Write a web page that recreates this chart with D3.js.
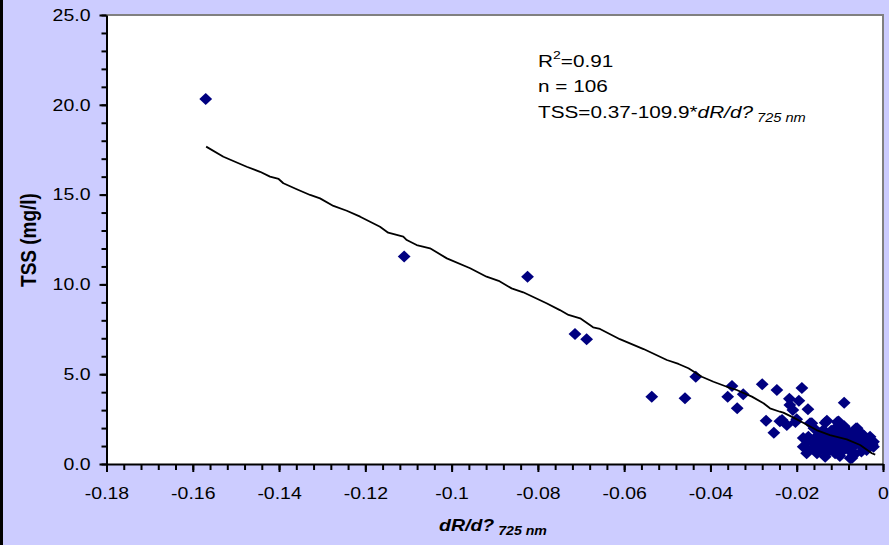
<!DOCTYPE html>
<html>
<head>
<meta charset="utf-8">
<script src="https://cdn.jsdelivr.net/npm/d3@7"></script>
<style>
  body { margin: 0; background: #ccccff; }
  svg { display: block; font-family: "Liberation Sans", Arial, sans-serif; }
</style>
</head>
<body>
<script>
// measured values: dR/dλ at 725 nm vs TSS (mg/l)
const dRdl = [
  -0.157, -0.111, -0.0824, -0.0714, -0.0687, -0.0536, -0.0459, -0.0434, -0.035, -0.036,
  -0.0324, -0.0338, -0.028, -0.0246, -0.0188, -0.0217, -0.0195, -0.0216, -0.009, -0.0209,
  -0.0174, -0.0271, -0.0253, -0.0239, -0.0234, -0.0223, -0.0203, -0.0200, -0.0169, -0.0134,
  -0.0130, -0.0106, -0.0103, -0.0160, -0.0138, -0.0063, -0.0060, -0.0084, -0.0107, -0.0146,
  -0.0173, -0.0127, -0.0053, -0.0030, -0.0022, -0.0038, -0.0030, -0.0022, -0.0038, -0.0173,
  -0.0146, -0.0111, -0.0076, -0.0177, -0.0134, -0.0088, -0.0069, -0.0161, -0.0130, -0.0107,
  -0.0084, -0.0065, -0.0115, -0.0138, -0.0150, -0.0095, -0.0042, -0.0185, -0.0153, -0.0127,
  -0.012, -0.010, -0.009, -0.0075, -0.0055, -0.005, -0.0045, -0.0095, -0.0115, -0.0125,
  -0.014, -0.016, -0.0105, -0.0085, -0.007, -0.0055, -0.012, -0.0155, -0.011, -0.009,
  -0.0035, -0.0065, -0.010, -0.0145, -0.0175, -0.0115, -0.0095, -0.006, -0.0045, -0.0025,
  -0.008, -0.0135, -0.0185, -0.0165, -0.0072, -0.0148
];
const tss = [
  20.32, 11.55, 10.43, 7.24, 6.94, 3.75, 3.66, 4.86, 4.34, 3.75,
  3.88, 3.10, 4.44, 4.12, 4.23, 3.64, 3.52, 3.28, 3.41, 3.00,
  3.05, 2.41, 1.74, 2.38, 2.45, 2.17, 2.34, 2.49, 2.27, 2.30,
  2.41, 2.34, 2.36, 1.99, 1.89, 1.97, 1.99, 1.89, 1.71, 1.71,
  1.52, 1.34, 1.34, 1.52, 1.24, 0.96, 1.34, 0.96, 0.78, 0.78,
  0.78, 0.60, 0.32, 0.60, 0.41, 0.96, 0.96, 1.15, 0.96, 1.15,
  1.43, 1.52, 1.43, 1.34, 1.24, 1.24, 1.34, 0.96, 0.60, 0.68,
  1.00, 0.85, 1.10, 1.20, 1.10, 0.70, 1.60, 0.70, 0.90, 1.15,
  1.05, 0.90, 1.50, 1.65, 1.70, 1.80, 1.85, 1.50, 2.00, 2.10,
  1.10, 0.55, 0.45, 1.00, 1.25, 1.60, 1.85, 1.25, 0.90, 1.10,
  0.80, 1.60, 1.45, 2.27, 0.33, 1.05
];

// regression line as drawn in the figure
const trendX = [
  -0.1569, -0.1529, -0.1475, -0.1444, -0.1421, -0.1401, -0.139, -0.1359, -0.1328, -0.1305,
  -0.1274, -0.1243, -0.1212, -0.1189, -0.1166, -0.1147, -0.1112, -0.1104, -0.1081, -0.105,
  -0.1011, -0.0957, -0.0919, -0.0891, -0.0861, -0.0834, -0.078, -0.0749, -0.0729, -0.0702,
  -0.0672, -0.0656, -0.061, -0.0555, -0.0501, -0.0474, -0.0451, -0.042, -0.0393, -0.0362,
  -0.0339, -0.0304, -0.0277, -0.0262, -0.0239, -0.0231, -0.0204, -0.0185, -0.0154, -0.0123,
  -0.0084, -0.0053, -0.0026, -0.0018
];
const trendY = [
  17.67, 17.11, 16.55, 16.27, 16.00, 15.87, 15.63, 15.30, 14.98, 14.79,
  14.37, 14.10, 13.77, 13.49, 13.21, 12.88, 12.66, 12.47, 12.19, 12.01,
  11.45, 10.90, 10.43, 10.20, 9.78, 9.56, 8.95, 8.57, 8.30, 8.11,
  7.61, 7.52, 6.95, 6.40, 5.79, 5.57, 5.33, 4.86, 4.58, 4.30,
  4.12, 3.75, 3.38, 3.10, 2.91, 2.86, 2.54, 2.30, 1.89, 1.61,
  1.37, 1.06, 0.60, 0.52
];

const xTickValues = [-0.18, -0.16, -0.14, -0.12, -0.1, -0.08, -0.06, -0.04, -0.02, 0];
const xTickLabels = ["-0.18", "-0.16", "-0.14", "-0.12", "-0.1", "-0.08", "-0.06", "-0.04", "-0.02", "0"];
const yTickValues = [0, 5, 10, 15, 20, 25];
const yTickLabels = ["0.0", "5.0", "10.0", "15.0", "20.0", "25.0"];

const W = 889, H = 545;
const plotL = 106.5, plotR = 883, plotT = 15, plotB = 464;
const sx = 1.18; // the original figure is stretched sideways

const svg = d3.select("body").append("svg")
  .attr("width", W)
  .attr("height", H);

svg.append("rect").attr("width", W).attr("height", H).attr("fill", "#ccccff");
svg.append("rect").attr("x", 0).attr("y", 0).attr("width", 3).attr("height", H).attr("fill", "#000");

const x = d3.scaleLinear([-0.18, 0], [plotL, plotR]);
const y = d3.scaleLinear([0, 25], [plotB, plotT]);

svg.append("rect")
  .attr("x", plotL).attr("y", plotT)
  .attr("width", plotR - plotL).attr("height", plotB - plotT)
  .attr("fill", "#fff");

svg.append("path")
  .attr("d", `M${plotL},${plotT}H${plotR}V${plotB}`)
  .attr("fill", "none")
  .attr("stroke", "#808080")
  .attr("stroke-width", 2);

// diamond marker
const diamond = {
  draw(ctx) {
    ctx.moveTo(0, -6);
    ctx.lineTo(6.4, 0);
    ctx.lineTo(0, 6);
    ctx.lineTo(-6.4, 0);
    ctx.closePath();
  }
};

svg.append("g")
  .selectAll("path")
  .data(d3.zip(dRdl, tss))
  .join("path")
  .attr("transform", d => `translate(${x(d[0])},${y(d[1])})`)
  .attr("d", d3.symbol(diamond))
  .attr("fill", "#000080");

svg.append("path")
  .datum(d3.zip(trendX, trendY))
  .attr("fill", "none")
  .attr("stroke", "#000")
  .attr("stroke-width", 1.8)
  .attr("stroke-linejoin", "round")
  .attr("d", d3.line(d => x(d[0]), d => y(d[1])));

// minor ticks
const xMinor = d3.range(0, 46).map(i => -0.18 + i * 0.004);
const yMinor = d3.range(0, 26);

svg.append("g")
  .attr("transform", `translate(0,${plotB})`)
  .call(d3.axisBottom(x).tickValues(xMinor).tickSize(6).tickSizeOuter(0).tickFormat(""))
  .call(g => g.select(".domain").remove())
  .call(g => g.selectAll("line").attr("stroke", "#000").attr("stroke-width", 2));

svg.append("g")
  .attr("transform", `translate(${plotL},0)`)
  .call(d3.axisLeft(y).tickValues(yMinor).tickSize(5).tickSizeOuter(0).tickFormat(""))
  .call(g => g.select(".domain").remove())
  .call(g => g.selectAll("line").attr("stroke", "#000").attr("stroke-width", 2));

// major ticks + labels
svg.append("g")
  .attr("transform", `translate(0,${plotB})`)
  .call(d3.axisBottom(x).tickValues(xTickValues).tickSize(8).tickSizeOuter(0)
    .tickPadding(15).tickFormat((d, i) => xTickLabels[i]))
  .call(g => g.select(".domain").attr("stroke", "#000").attr("stroke-width", 2))
  .call(g => g.selectAll("line").attr("stroke", "#000").attr("stroke-width", 2))
  .call(g => g.selectAll("text")
    .attr("fill", "#000")
    .attr("font-size", 16.5)
    .attr("font-family", "Liberation Sans, Arial, sans-serif")
    .attr("transform", `scale(${sx},1)`));

svg.append("g")
  .attr("transform", `translate(${plotL},0)`)
  .call(d3.axisLeft(y).tickValues(yTickValues).tickSize(7).tickSizeOuter(0)
    .tickFormat((d, i) => yTickLabels[i]))
  .call(g => g.select(".domain").attr("stroke", "#000").attr("stroke-width", 2))
  .call(g => g.selectAll("line").attr("stroke", "#000").attr("stroke-width", 2))
  .call(g => g.selectAll("text")
    .attr("fill", "#000")
    .attr("font-size", 16.5)
    .attr("font-family", "Liberation Sans, Arial, sans-serif")
    .attr("x", -16 / sx)
    .attr("transform", `scale(${sx},1)`));

// axis titles
svg.append("text")
  .attr("transform", `translate(36,240) scale(${sx},1) rotate(-90)`)
  .attr("text-anchor", "middle")
  .attr("font-size", 19)
  .attr("font-weight", "bold")
  .text("TSS (mg/l)");

const xt = svg.append("text")
  .attr("transform", `translate(493,531) scale(${sx},1)`)
  .attr("text-anchor", "middle")
  .attr("font-size", 16.5)
  .attr("font-weight", "bold")
  .attr("font-style", "italic");
xt.append("tspan").text("dR/d?");
xt.append("tspan").attr("dy", 4).attr("font-size", 12).text(" 725 nm");

// annotation
const note = svg.append("g")
  .attr("transform", `translate(538,0) scale(1.22,1)`)
  .attr("font-size", 17);

const r2 = note.append("text").attr("y", 67);
r2.append("tspan").text("R");
r2.append("tspan").attr("dy", -8).attr("font-size", 11.5).text("2");
r2.append("tspan").attr("dy", 8).text("=0.91");

note.append("text").attr("y", 92).text("n = 106");

const eq = note.append("text").attr("y", 118);
eq.append("tspan").text("TSS=0.37-109.9*");
eq.append("tspan").attr("font-style", "italic").text("dR/d?");
eq.append("tspan").attr("font-style", "italic").attr("dy", 4).attr("font-size", 12).text(" 725 nm");
</script>
</body>
</html>
